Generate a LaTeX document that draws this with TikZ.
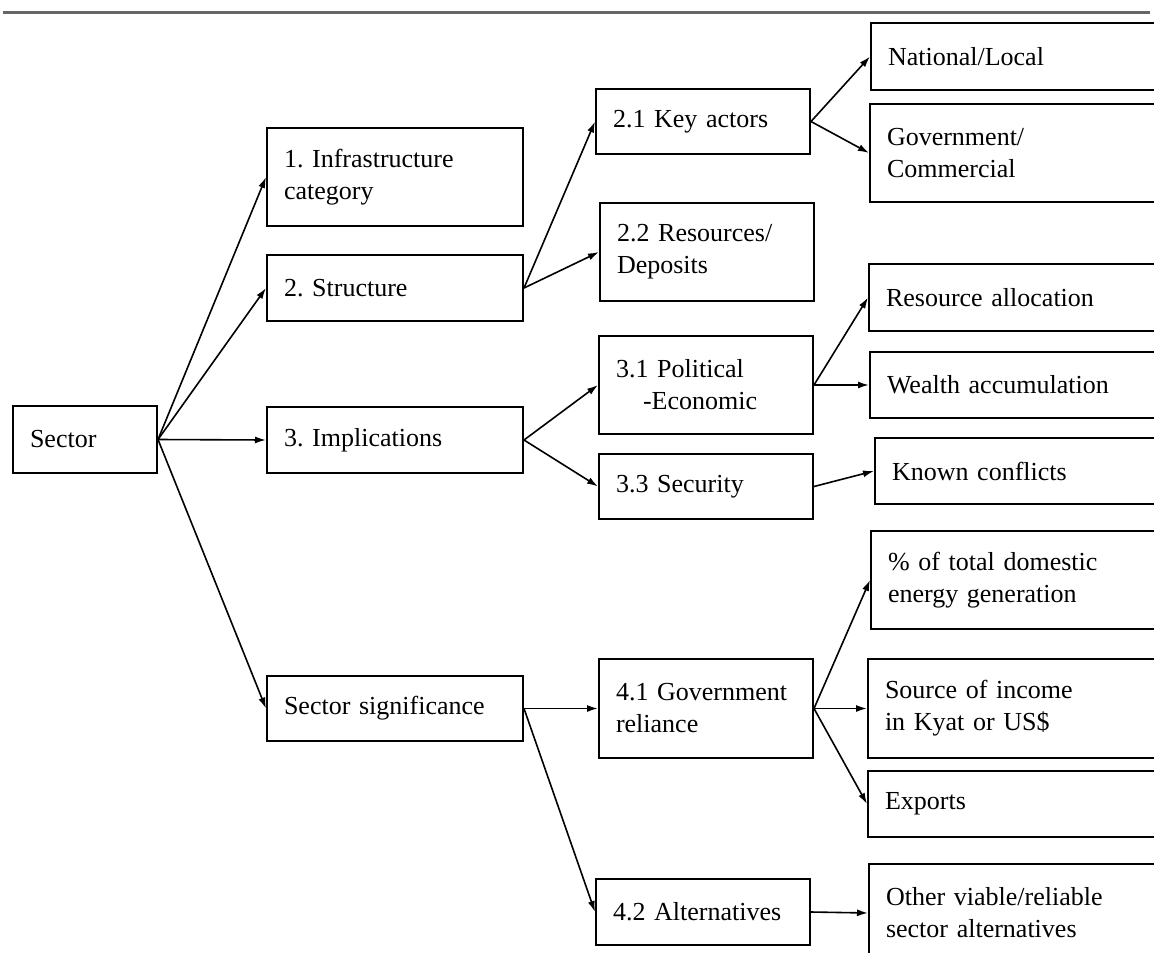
\documentclass[tikz,border=0pt]{standalone}
\usepackage{fontspec}
\setmainfont{Liberation Serif}
\usepackage{tikz}
\usetikzlibrary{arrows.meta,calc,positioning}

\tikzset{
  box/.style={draw, line width=2pt, rectangle, anchor=north west, align=left,
    inner xsep=17pt, inner ysep=0pt, font=\fontsize{26}{32}\selectfont\frenchspacing},
  rootbox/.style={box, text width=110pt, minimum height=67pt},
  midbox/.style={box, text width=222pt},
  subbox/.style={box, text width=180pt},
  leafbox/.style={box, text width=330pt},
  link/.style={->, line width=1.6pt}
}

\begin{document}
\begin{tikzpicture}[x=1pt, y=-1pt, >={Latex[length=11pt,width=7pt]}]
  \path[use as bounding box, clip] (0,0) rectangle (1154,953);

  % rule at top
  \draw[line width=3pt, black!60] (3,12) -- (1150,12);

  % level 0
  \node[rootbox] (sector) at (12,405) {Sector};

  % level 1
  \node[midbox, minimum height=98pt] (infra) at (266,127) {1. Infrastructure\\category};
  \node[midbox, minimum height=66pt] (struct) at (266,254) {2. Structure};
  \node[midbox, minimum height=66pt] (impl) at (266,406) {3. Implications};
  \node[midbox, minimum height=65pt] (signif) at (266,675) {Sector significance};

  % level 2
  \node[subbox, minimum height=65pt] (actors) at (595,88) {2.1 Key actors};
  \node[subbox, minimum height=98pt] (resources) at (599,202) {2.2 Resources/\\Deposits};
  \node[subbox, minimum height=98pt] (politic) at (598,335) {3.1 Political\\\hspace*{27pt}-Economic};
  \node[subbox, minimum height=65pt] (security) at (598,453) {3.3 Security};
  \node[subbox, minimum height=99pt] (reliance) at (598,658) {4.1 Government\\reliance};
  \node[subbox, minimum height=66pt] (altern) at (595,878) {4.2 Alternatives};

  % level 3
  \node[leafbox, minimum height=67pt] (national) at (870,22) {National/Local};
  \node[leafbox, minimum height=98pt] (govcom) at (869,103) {Government/\\Commercial};
  \node[leafbox, minimum height=67pt] (alloc) at (868,263) {Resource allocation};
  \node[leafbox, minimum height=66pt] (wealth) at (869,351) {Wealth accumulation};
  \node[leafbox, minimum height=66pt] (conflicts) at (874,437) {Known conflicts};
  \node[leafbox, minimum height=98pt] (energy) at (870,530) {\% of total domestic\\energy generation};
  \node[leafbox, minimum height=99pt] (income) at (867,658) {Source of income\\in Kyat or US\$};
  \node[leafbox, minimum height=66pt] (exports) at (867,770) {Exports};
  \node[leafbox, minimum height=98pt] (other) at (868,863) {Other viable/reliable\\sector alternatives};

  \path (sector.east) edge[link] (infra.west)
                      edge[link] (struct.west)
                      edge[link] (impl.west)
                      edge[link] (signif.west);

  \path (struct.east) edge[link] (actors.west)
                      edge[link] (resources.west);
  \path (impl.east) edge[link] (politic.west)
                    edge[link] (security.west);
  \path (signif.east) edge[link] (reliance.west)
                      edge[link] (altern.west);

  \path (actors.east) edge[link] (national.west)
                      edge[link] (govcom.west);
  \path (politic.east) edge[link] (alloc.west)
                       edge[link] (wealth.west);
  \path (security.east) edge[link] (conflicts.west);
  \path (reliance.east) edge[link] (energy.west)
                        edge[link] (income.west)
                        edge[link] (exports.west);
  \path (altern.east) edge[link] (other.west);
\end{tikzpicture}
\end{document}
